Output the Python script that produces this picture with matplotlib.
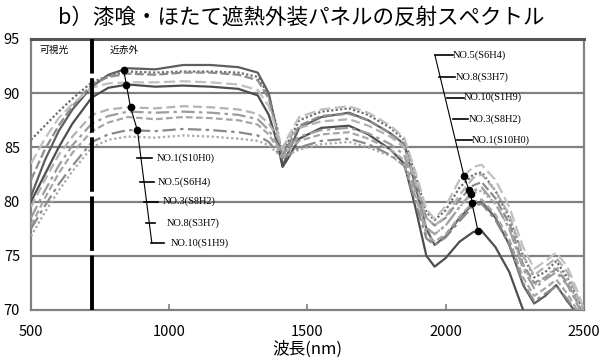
import matplotlib
matplotlib.use('Agg')
import matplotlib.pyplot as plt
import numpy as np

# wavelength nodes (nm)
wl = [500, 550, 600, 650, 720, 780, 850, 950, 1050, 1150, 1250, 1320, 1360, 1390, 1410, 1430,
      1470, 1550, 1650, 1720, 1800, 1850, 1890, 1930, 1960, 2000, 2050, 2100, 2130, 2180,
      2230, 2280, 2320, 2360, 2400, 2440, 2480, 2500]

# reflectance (%)
c1 = [80.5, 83.8, 86.5, 88.5, 90.6, 91.7, 92.3, 92.2, 92.6, 92.6, 92.4, 91.9, 90.0, 86.5, 83.3, 84.5,
      86.8, 87.8, 88.2, 87.5, 86.3, 85.3, 81.5, 77.5, 76.0, 76.8, 78.5, 79.8, 80.0, 78.5,
      76.0, 72.3, 70.6, 71.3, 72.3, 70.8, 69.5, 69.0]
c2 = [85.7, 87.0, 88.3, 89.5, 91.0, 91.6, 92.0, 91.9, 92.0, 92.0, 91.9, 91.5, 89.8, 86.8, 84.2, 85.5,
      87.5, 88.3, 88.6, 88.0, 86.8, 85.7, 82.5, 79.0, 78.3, 79.2, 81.3, 82.5, 82.7, 81.0,
      78.5, 75.0, 73.0, 73.5, 74.5, 73.0, 71.0, 69.5]
c3 = [82.0, 84.8, 87.0, 88.8, 90.8, 91.5, 91.8, 91.7, 91.9, 91.9, 91.7, 91.2, 89.5, 86.5, 84.0, 85.2,
      87.0, 87.9, 88.1, 87.5, 86.3, 85.3, 82.0, 78.5, 77.8, 78.5, 80.2, 81.5, 81.8, 80.3,
      78.0, 74.2, 72.5, 73.0, 73.8, 72.5, 70.5, 69.5]
c4 = [83.5, 85.8, 87.7, 89.0, 90.5, 90.9, 91.0, 91.0, 91.1, 91.0, 90.8, 90.3, 88.8, 86.5, 84.8, 86.0,
      87.8, 88.5, 88.8, 88.2, 87.0, 85.9, 82.8, 79.3, 78.4, 79.6, 82.0, 83.2, 83.4, 82.0,
      79.5, 75.8, 73.8, 74.5, 75.3, 74.0, 71.5, 70.0]
c5 = [80.0, 82.5, 85.0, 87.2, 89.6, 90.5, 90.8, 90.6, 90.7, 90.6, 90.4, 89.8, 88.0, 85.5, 83.2, 84.0,
      85.8, 86.8, 87.0, 86.2, 84.8, 83.5, 79.5, 75.0, 74.0, 74.8, 76.3, 77.2, 77.3, 75.8,
      73.5, 70.0, 68.5, 69.0, 69.5, 69.0, 68.5, 68.0]
c6 = [79.5, 82.0, 84.3, 86.0, 88.0, 88.5, 88.7, 88.6, 88.8, 88.7, 88.5, 88.1, 87.2, 86.0, 85.0, 85.8,
      86.8, 87.4, 87.6, 87.0, 86.0, 85.0, 81.8, 78.5, 77.8, 78.6, 80.6, 82.2, 82.5, 81.0,
      78.8, 75.0, 73.2, 74.0, 74.8, 73.5, 71.0, 69.8]
c7 = [78.5, 81.0, 83.3, 85.2, 87.2, 87.9, 88.3, 88.2, 88.3, 88.2, 88.0, 87.6, 86.6, 85.3, 84.5, 85.0,
      86.0, 86.6, 86.8, 86.3, 85.3, 84.3, 81.0, 77.6, 77.0, 77.8, 79.5, 81.0, 81.3, 79.8,
      77.5, 73.8, 72.0, 72.8, 73.5, 72.3, 70.3, 69.3]
c8 = [77.8, 80.3, 82.6, 84.5, 86.5, 87.3, 87.8, 87.6, 87.8, 87.7, 87.5, 87.1, 86.2, 85.0, 84.2, 84.7,
      85.6, 86.2, 86.4, 85.8, 84.8, 83.8, 80.5, 77.0, 76.3, 77.0, 78.6, 80.0, 80.2, 78.8,
      76.5, 73.0, 71.3, 72.0, 72.8, 71.5, 69.8, 69.0]
c9 = [77.5, 79.6, 81.6, 83.3, 85.5, 86.2, 86.6, 86.5, 86.7, 86.6, 86.4, 86.1, 85.5, 84.6, 84.0, 84.3,
      85.0, 85.6, 85.8, 85.3, 84.3, 83.3, 80.0, 76.6, 76.0, 76.7, 78.2, 79.6, 79.8, 78.3,
      76.0, 72.5, 70.8, 71.5, 72.2, 71.0, 69.5, 68.8]
c10 = [76.8, 79.0, 81.0, 82.8, 85.0, 85.7, 86.0, 85.9, 86.1, 86.0, 85.8, 85.6, 85.2, 84.5, 84.0, 84.3,
       84.8, 85.3, 85.5, 85.0, 84.2, 83.4, 80.5, 77.5, 77.0, 77.8, 79.5, 80.8, 81.0, 79.8,
       77.5, 74.0, 72.3, 73.0, 74.0, 72.8, 70.5, 69.5]

curves = [c1, c2, c3, c4, c5, c6, c7, c8, c9, c10]
colors = ['#5e5e5e', '#6e6e6e', '#8c8c8c', '#c0c0c0', '#4e4e4e',
          '#b2b2b2', '#9c9c9c', '#a6a6a6', '#8a8a8a', '#a8a8a8']
styles = ['-', (0, (1, 1)), (0, (4, 1.5)), (0, (5, 2)), '-',
          (0, (4, 2)), (0, (6, 2, 1.5, 2)), (0, (3, 1.5)), (0, (6, 2, 1.5, 2)), (0, (1, 1.2))]

left_labels = ['NO.1(S10H0)', 'NO.5(S6H4)', 'NO.3(S8H2)', 'NO.8(S3H7)', 'NO.10(S1H9)']
right_labels = ['NO.5(S6H4)', 'NO.8(S3H7)', 'NO.10(S1H9)', 'NO.3(S8H2)', 'NO.1(S10H0)']

jp = ['Noto Sans CJK JP', 'DejaVu Sans']

fig = plt.figure(figsize=(6.03, 3.61), dpi=100)
ax = fig.add_axes([0.0514, 0.1413, 0.917, 0.7507])

for y in [75, 80, 85, 90]:
    ax.axhline(y, color='#808080', lw=1.6, zorder=1)

for c, col, ls in zip(curves, colors, styles):
    ax.plot(wl, c, color=col, ls=ls, lw=1.6, zorder=3)

# visible / near-infrared border
ax.axvline(720, color='black', lw=2.8, ls=(0, (14, 1.2)), zorder=4)
ax.text(530, 94.0, '可視光', fontsize=7, family=jp, va='center')
ax.text(785, 94.0, '近赤外', fontsize=7, family=jp, va='center')

# left leader line
ldots = [(835, c1), (845, c5), (860, c6), (885, c9)]
lpts = [(x, np.interp(x, wl, c)) for x, c in ldots]
lx = [p[0] for p in lpts] + [937]
ly = [p[1] for p in lpts] + [76.2]
ax.plot(lx, ly, color='black', lw=0.8, zorder=5)
ax.plot([p[0] for p in lpts], [p[1] for p in lpts], 'o', color='black', ms=4.5, zorder=6)
lab_y = [84.0, 81.8, 80.0, 78.0, 76.2]
tick_x0 = [883, 895, 908, 915, 935]
tick_x1 = [937, 945, 960, 950, 980]
text_x = [955, 960, 975, 990, 1005]
for lab, y, x0, x1, tx in zip(left_labels, lab_y, tick_x0, tick_x1, text_x):
    ax.plot([x0, x1], [y, y], color='black', lw=1.2, zorder=5)
    ax.text(tx, y, lab, fontsize=7.5, family='Liberation Serif', va='center')

# right leader line
rdots = [(2066, c4), (2084, c3), (2091, c7), (2095, c8), (2117, c5)]
rpts = [(x, np.interp(x, wl, c)) for x, c in rdots]
rx = [1961] + [p[0] for p in rpts]
ry = [93.5] + [p[1] for p in rpts]
ax.plot(rx, ry, color='black', lw=0.8, zorder=5)
ax.plot([p[0] for p in rpts], [p[1] for p in rpts], 'o', color='black', ms=4.5, zorder=6)
rlab_y = [93.5, 91.5, 89.6, 87.6, 85.7]
rtick_x0 = [1961, 1975, 2005, 2025, 2040]
rtick_x1 = [2025, 2035, 2065, 2080, 2095]
rtext_x = [2025, 2035, 2065, 2085, 2095]
for lab, y, x0, x1, tx in zip(right_labels, rlab_y, rtick_x0, rtick_x1, rtext_x):
    ax.plot([x0, x1], [y, y], color='black', lw=1.2, zorder=5)
    ax.text(tx, y, lab, fontsize=7.5, family='Liberation Serif', va='center')

ax.set_xlim(500, 2500)
ax.set_ylim(70, 95)
ax.set_xticks([500, 1000, 1500, 2000, 2500])
ax.set_yticks([70, 75, 80, 85, 90, 95])
ax.tick_params(axis='x', direction='in', length=4, width=1.2, color='#808080', pad=11, labelsize=10.5)
ax.tick_params(axis='y', length=0, pad=8, labelsize=10.5)
for lab in ax.get_xticklabels() + ax.get_yticklabels():
    lab.set_family(jp)

for side in ['left', 'bottom', 'right']:
    ax.spines[side].set_color('#808080')
    ax.spines[side].set_linewidth(1.6)
ax.spines['top'].set_color('#555555')
ax.spines['top'].set_linewidth(2.2)

ax.set_xlabel('波長(nm)', fontsize=12, family=jp, labelpad=1)
fig.text(0.5, 0.95, 'b）漆喰・ほたて遮熱外装パネルの反射スペクトル', fontsize=15.5,
         family=jp, ha='center', va='center')

fig.savefig('out.png', dpi=100)
